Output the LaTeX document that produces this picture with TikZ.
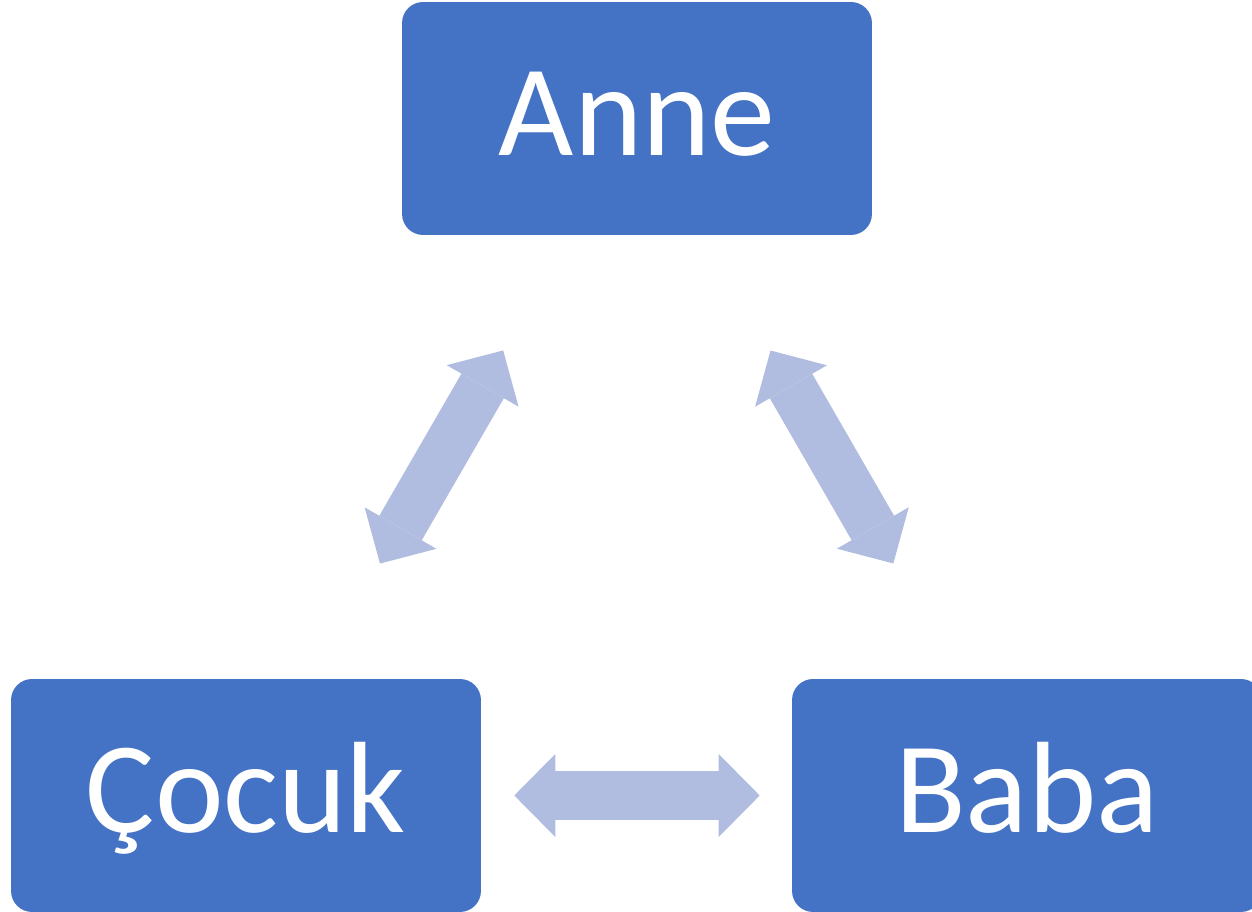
\documentclass[tikz,border=0pt]{standalone}
\usepackage{fontspec}
\setmainfont{Carlito}
\usepackage{tikz}
\usetikzlibrary{arrows.meta}
\definecolor{boxblue}{HTML}{4472C4}
\definecolor{arrowblue}{HTML}{B0BDE0}

\begin{document}
\begin{tikzpicture}[x = .02cm, y = .02cm,
    member/.style = {rectangle, rounded corners = .42cm, fill = boxblue, text = white,
        minimum width = 9.4cm, minimum height = 4.66cm, inner sep = 0pt,
        text height = 1.9cm, text depth = .42cm, font = \fontsize{74}{88}\selectfont},
    link/.style = {arrowblue, line width = .98cm,
        arrows = {Triangle[length = .82cm, width = 1.66cm, line width = 0pt]-Triangle[length = .82cm, width = 1.66cm, line width = 0pt]}}]
\useasboundingbox (0,0) rectangle (1252,912);
\clip (0,0) rectangle (1252,912);
\draw (637,793.5) node[member](a1){Anne}
    (246,116.5) node[member](a2){Çocuk}
    (1027,116.5) node[member](a3){Baba};
    \draw [link, shorten < = 2.66cm, shorten > = 2.66cm] (a1) -- (a2);
    \draw [link, shorten < = 2.66cm, shorten > = 2.66cm] (a1) -- (a3);
    \draw [link, shorten < = .66cm, shorten > = .64cm] (a2) -- (a3);
\end{tikzpicture}
\end{document}
